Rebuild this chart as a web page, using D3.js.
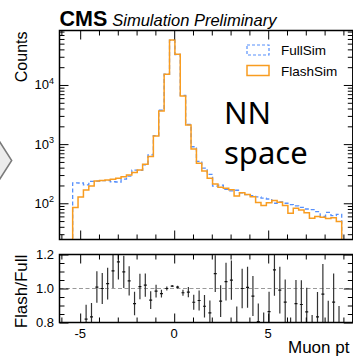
<!DOCTYPE html>
<html>
<head>
<meta charset="utf-8">
<script src="https://cdn.jsdelivr.net/npm/d3@7"></script>
<style>
  body { margin: 0; background: #fff; }
  svg { display: block; }
</style>
</head>
<body>
<div id="chart"></div>
<script>
// histogram binning in NN space
const binLo = -5.4
const binHi = 8.91
const nBins = 50

// counts per bin
const fullSim = [222, 220, 205, 234, 236, 242, 241, 231, 229, 255,
  287, 362, 361, 446, 660, 1397, 3742, 15200, 56700, 32740,
  6667, 2147, 903, 511, 393, 308, 195, 202, 172, 162,
  166, 150, 140, 135, 128, 122, 118, 100, 105, 100,
  95, 90, 85, 80, 78, 72, 60, 70, 62, 65]
const flashSim = [85, 128, 168, 195, 238, 242, 248, 255, 265, 280,
  300, 330, 365, 455, 615, 1375, 3630, 15200, 57500, 33000,
  6500, 2100, 830, 475, 352, 264, 212, 187, 179, 170,
  133, 150, 141, 129, 103, 92, 102, 111, 104, 92,
  68, 82, 77, 69, 56, 60, 58, 55, 57, 49]

const xTicks = [-5, 0, 5]
const yTicks = [100, 1000, 10000]
const ratioTicks = [0.8, 1.0, 1.2]
const legendLabels = ['FullSim', 'FlashSim']

const colFull = '#5790fc'
const colFlash = '#f89c20'
const font = '"Liberation Sans", Arial, Helvetica, sans-serif'

const W = 353, H = 358
const L = 59.5, R = 352.8
const top1 = 30.5, bot1 = 239.5
const top2 = 254.5, bot2 = 322.5

const x = d3.scaleLinear().domain([-6.1, 9.5]).range([L, R])
const y = d3.scaleLog().domain([24.4, 83400]).range([bot1, top1])
const yr = d3.scaleLinear().domain([0.8, 1.2]).range([bot2, top2])

const binW = (binHi - binLo) / nBins
const edges = d3.range(nBins + 1).map((i) => binLo + i * binW)

const svg = d3.select('#chart').append('svg')
  .attr('width', W).attr('height', H)
  .style('font-family', font)

// the grey arrow peeking in at the left
svg.append('polygon')
  .attr('points', '-4,136 11.7,160.5 -4,185')
  .attr('fill', '#ececec').attr('stroke', '#7a7a7a').attr('stroke-width', 1.5)

const defs = svg.append('defs')
defs.append('clipPath').attr('id', 'clipTop').append('rect')
  .attr('x', L).attr('y', top1).attr('width', R - L).attr('height', bot1 - top1)
defs.append('clipPath').attr('id', 'clipBot').append('rect')
  .attr('x', L).attr('y', top2).attr('width', R - L).attr('height', bot2 - top2)

// ---- histograms ----
function stepPoints(vals) {
  const pts = [[x(edges[0]), bot1 + 5]]
  vals.forEach((v, i) => {
    pts.push([x(edges[i]), y(v)])
    pts.push([x(edges[i + 1]), y(v)])
  })
  pts.push([x(edges[nBins]), bot1 + 5])
  return pts
}
const line = d3.line()

const gTop = svg.append('g').attr('clip-path', 'url(#clipTop)')
gTop.append('path')
  .attr('d', line(stepPoints(fullSim)))
  .attr('fill', 'none').attr('stroke', colFull)
  .attr('stroke-width', 1.3).attr('stroke-dasharray', '4,2.5')
gTop.append('path')
  .attr('d', line(stepPoints(flashSim)))
  .attr('fill', 'none').attr('stroke', colFlash).attr('stroke-width', 1.5)

// ---- ratio panel ----
const ratio = flashSim.map((f, i) => {
  const b = fullSim[i]
  const r = f / b
  return { i, r, e: r * Math.sqrt(1 / f + 1 / b) }
})

const gBot = svg.append('g').attr('clip-path', 'url(#clipBot)')
gBot.append('line')
  .attr('x1', L).attr('x2', R).attr('y1', yr(1)).attr('y2', yr(1))
  .attr('stroke', '#999').attr('stroke-width', 1).attr('stroke-dasharray', '4,2.5')

const bars = gBot.selectAll('.eb').data(ratio).enter().append('g')
bars.append('line')
  .attr('x1', (d) => x((edges[d.i] + edges[d.i + 1]) / 2))
  .attr('x2', (d) => x((edges[d.i] + edges[d.i + 1]) / 2))
  .attr('y1', (d) => yr(d.r - d.e))
  .attr('y2', (d) => yr(d.r + d.e))
  .attr('stroke', '#333').attr('stroke-width', 1.2)
bars.append('line')
  .attr('x1', (d) => x(edges[d.i]) + 1.2)
  .attr('x2', (d) => x(edges[d.i + 1]) - 1.2)
  .attr('y1', (d) => yr(d.r))
  .attr('y2', (d) => yr(d.r))
  .attr('stroke', '#111').attr('stroke-width', 1.2)

// ---- axes & ticks ----
const xMinor = d3.range(-6, 10).filter((v) => xTicks.indexOf(v) < 0)
const logMinor = []
;[10, 100, 1000, 10000].forEach((d) => {
  for (let k = 2; k <= 9; k++) if (k * d > 24.4 && k * d < 83400) logMinor.push(k * d)
})
const rMinor = [0.85, 0.9, 0.95, 1.05, 1.1, 1.15]

function ticks(gen, scale, vals, size, tx, ty) {
  svg.append('g').attr('transform', `translate(${tx},${ty})`)
    .call(gen(scale).tickValues(vals).tickSize(size).tickFormat(''))
    .call((g) => g.select('.domain').remove())
    .call((g) => g.selectAll('line').attr('stroke', '#000').attr('stroke-width', 1))
}

function panelTicks(yScale, yMaj, yMin, top, bot) {
  ticks(d3.axisBottom, x, xTicks, -9, 0, bot)
  ticks(d3.axisBottom, x, xMinor, -5, 0, bot)
  ticks(d3.axisTop, x, xTicks, -9, 0, top)
  ticks(d3.axisTop, x, xMinor, -5, 0, top)
  ticks(d3.axisLeft, yScale, yMaj, -9, L, 0)
  ticks(d3.axisLeft, yScale, yMin, -5, L, 0)
  ticks(d3.axisRight, yScale, yMaj, -9, R, 0)
  ticks(d3.axisRight, yScale, yMin, -5, R, 0)
  svg.append('rect')
    .attr('x', L).attr('y', top).attr('width', R - L).attr('height', bot - top)
    .attr('fill', 'none').attr('stroke', '#000').attr('stroke-width', 1.5)
}
panelTicks(y, yTicks, logMinor, top1, bot1)
panelTicks(yr, ratioTicks, rMinor, top2, bot2)

// tick labels
const yLab = svg.append('g').attr('font-size', 13).attr('fill', '#000')
yTicks.forEach((v) => {
  const t = yLab.append('text')
    .attr('x', L - 5.5).attr('y', y(v) + 4.5).attr('text-anchor', 'end')
  t.append('tspan').text('10')
  t.append('tspan').attr('font-size', 9).attr('dy', -5.5).text(Math.round(Math.log10(v)))
})
ratioTicks.forEach((v) => {
  yLab.append('text')
    .attr('x', L - 5.5).attr('y', yr(v) + 4.5).attr('text-anchor', 'end')
    .text(d3.format('.1f')(v))
})
xTicks.forEach((v) => {
  yLab.append('text')
    .attr('x', x(v)).attr('y', bot2 + 15.5).attr('text-anchor', 'middle')
    .text(v < 0 ? '-' + Math.abs(v) : v)
})

// axis titles
svg.append('text')
  .attr('transform', `translate(27,${top1 + 1}) rotate(-90)`)
  .attr('text-anchor', 'end').attr('font-size', 16).text('Counts')
svg.append('text')
  .attr('transform', `translate(27,${(top2 + bot2) / 2 + 3}) rotate(-90)`)
  .attr('text-anchor', 'middle').attr('font-size', 17).text('Flash/Full')
svg.append('text')
  .attr('x', 288).attr('y', 352.5).attr('font-size', 17)
  .text('Muon pt')

// CMS label
const head = svg.append('text').attr('x', L).attr('y', 25.5)
head.append('tspan').attr('font-weight', 'bold').attr('font-size', 21.5).text('CMS')
head.append('tspan').attr('dx', 5).attr('font-style', 'italic').attr('font-size', 16.5)
  .text('Simulation Preliminary')

// legend
const leg = svg.append('g').attr('font-size', 13.5)
legendLabels.forEach((lab, i) => {
  const yy = 45 + i * 20.5
  leg.append('rect')
    .attr('x', 247).attr('y', yy).attr('width', 22).attr('height', 10)
    .attr('fill', 'none')
    .attr('stroke', i === 0 ? colFull : colFlash)
    .attr('stroke-width', i === 0 ? 1.2 : 1.5)
    .attr('stroke-dasharray', i === 0 ? '3,2' : null)
  leg.append('text').attr('x', 281).attr('y', yy + 10).text(lab)
})

// slide annotation
const ann = svg.append('text').attr('font-family', '"Noto Sans", "DejaVu Sans", sans-serif')
  .attr('font-size', 31).attr('fill', '#000')
ann.append('tspan').attr('x', 224).attr('y', 124).text('NN')
ann.append('tspan').attr('x', 224).attr('y', 164).text('space')
</script>
</body>
</html>
